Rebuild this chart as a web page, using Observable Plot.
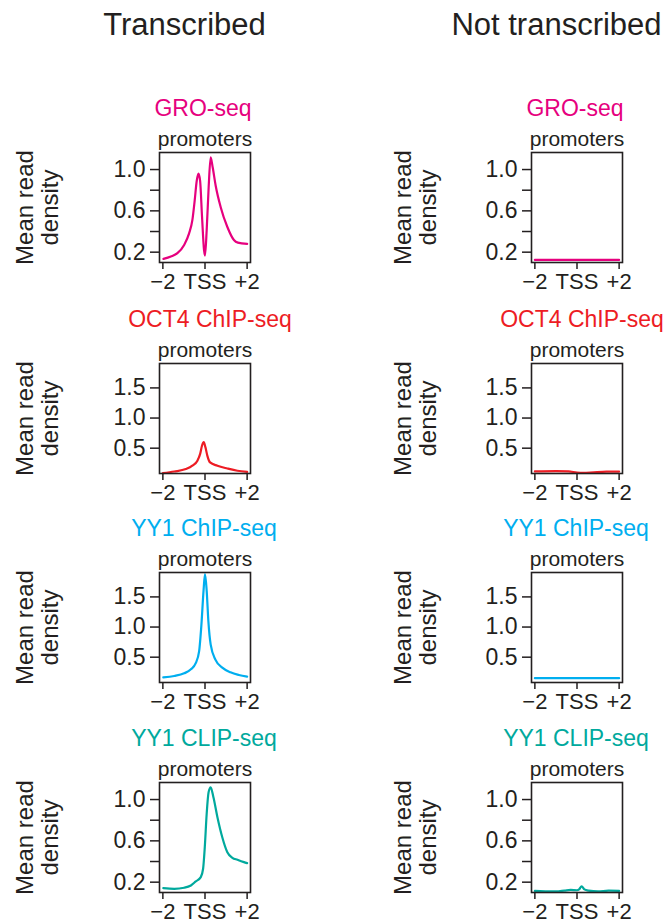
<!DOCTYPE html>
<html>
<head>
<meta charset="utf-8">
<script src="https://cdn.jsdelivr.net/npm/d3@7"></script>
<script src="https://cdn.jsdelivr.net/npm/@observablehq/plot@0.6"></script>
<style>
  body { margin: 0; background: #fff; }
  #fig { position: relative; width: 667px; height: 923px; overflow: hidden; font-family: "Liberation Sans", Arial, Helvetica, sans-serif; color: #231f20; }
  .head { position: absolute; top: 9px; width: 230px; font-size: 31px; line-height: 31px; text-align: center; white-space: nowrap; }
  .panel { position: absolute; }
  .panel svg { overflow: visible; max-width: none; }
</style>
</head>
<body>
<div id="fig"></div>
<script>
// ---------- data ----------
const conditions = ["Transcribed", "Not transcribed"];
const assays = ["GRO-seq", "OCT4 ChIP-seq", "YY1 ChIP-seq", "YY1 CLIP-seq"];
const subtitle = "promoters";
const yTitle = "Mean read\ndensity";

const xTickValues = [-2, 0, 2];
const xTickLabels = ["\u22122", "TSS", "+2"];
const yTicksA = [0.2, 0.4, 0.6, 0.8, 1.0];          // GRO-seq, CLIP-seq rows
const yTickLabelsA = ["0.2", "", "0.6", "", "1.0"];
const yTicksB = [0.5, 1.0, 1.5];                    // ChIP-seq rows
const yTickLabelsB = ["0.5", "1.0", "1.5"];

// kb from TSS / mean read density
const groT_x = [-1.97, -1.62, -1.31, -0.99, -0.755, -0.6, -0.49, -0.39, -0.31, -0.234, -0.14, -0.046, 0.0, 0.08, 0.174, 0.269, 0.364, 0.505, 0.742, 1.057, 1.372, 1.56, 2.0];
const groT_y = [0.135, 0.158, 0.19, 0.27, 0.382, 0.51, 0.70, 0.894, 0.96, 0.894, 0.54, 0.22, 0.167, 0.414, 0.83, 1.118, 1.022, 0.846, 0.638, 0.446, 0.318, 0.292, 0.28];
const groN_x = [-2, -1, 0, 1, 2];
const groN_y = [0.125, 0.125, 0.125, 0.125, 0.125];

const oct4T_x = [-2.0, -1.46, -0.91, -0.6, -0.36, -0.23, -0.14, -0.06, 0.02, 0.11, 0.24, 0.59, 1.06, 1.54, 2.0];
const oct4T_y = [0.086, 0.113, 0.153, 0.209, 0.293, 0.405, 0.545, 0.60, 0.517, 0.377, 0.264, 0.209, 0.163, 0.125, 0.108];
const oct4N_x = [-2, -1, -0.4, 0, 0.3, 0.8, 1.4, 2];
const oct4N_y = [0.115, 0.12, 0.115, 0.095, 0.09, 0.1, 0.11, 0.112];

const yy1T_x = [-1.98, -1.46, -0.99, -0.67, -0.44, -0.28, -0.17, -0.07, 0.0, 0.08, 0.16, 0.27, 0.5, 0.82, 1.21, 1.61, 2.0];
const yy1T_y = [0.165, 0.188, 0.232, 0.299, 0.40, 0.595, 1.04, 1.60, 1.88, 1.60, 1.098, 0.708, 0.456, 0.327, 0.249, 0.205, 0.178];
const yy1N_x = [-2, -1, 0, 1, 2];
const yy1N_y = [0.152, 0.153, 0.152, 0.153, 0.152];

const clipT_x = [-1.98, -1.46, -0.99, -0.67, -0.44, -0.2, -0.09, -0.01, 0.08, 0.17, 0.27, 0.40, 0.59, 0.82, 1.06, 1.30, 1.54, 1.85, 2.0];
const clipT_y = [0.142, 0.136, 0.146, 0.168, 0.207, 0.249, 0.33, 0.539, 0.862, 1.07, 1.118, 1.022, 0.829, 0.635, 0.49, 0.436, 0.417, 0.394, 0.384];
const clipN_x = [-2, -1.5, -1, -0.6, -0.3, 0, 0.1, 0.22, 0.35, 0.55, 1, 1.5, 2];
const clipN_y = [0.115, 0.112, 0.11, 0.118, 0.125, 0.122, 0.13, 0.16, 0.13, 0.118, 0.11, 0.118, 0.115];

// ---------- styling / layout ----------
const ink = "#231f20";
const assayColors = ["#e6007e", "#ed1c24", "#00aeef", "#00a99d"];
const fontFamily = '"Liberation Sans", Arial, Helvetica, sans-serif';
const seriesX = [[groT_x, groN_x], [oct4T_x, oct4N_x], [yy1T_x, yy1N_x], [clipT_x, clipN_x]];
const seriesY = [[groT_y, groN_y], [oct4T_y, oct4N_y], [yy1T_y, yy1N_y], [clipT_y, clipN_y]];
const yDomains = [[0.10, 1.165], [0.08, 1.905], [0.08, 1.905], [0.10, 1.165]];
const rowFrameTop = [152, 363, 572, 782];
const titleDx = [-2, 5, -1, -1];
const colLeft = [0, 372];
const colLabelDx = [-122, -116];
const headCenter = [184.5, 556.5];
const FW = 91, FH = 110, ML = 159, MR = 45, MT = 46, MB = 36;

const fig = document.getElementById("fig");

conditions.forEach((c, ci) => {
  const h = document.createElement("div");
  h.className = "head";
  h.textContent = c;
  h.style.left = (headCenter[ci] - 115) + "px";
  fig.appendChild(h);
});

for (let r = 0; r < assays.length; r++) {
  for (let c = 0; c < conditions.length; c++) {
    const xs = seriesX[r][c], ys = seriesY[r][c];
    const data = xs.map((x, i) => ({pos: x, density: ys[i]}));
    const small = (r === 0 || r === 3);
    const yt = small ? yTicksA : yTicksB;
    const yl = small ? yTickLabelsA : yTickLabelsB;
    const color = assayColors[r];
    const p = Plot.plot({
      width: ML + FW + MR,
      height: MT + FH + MB,
      marginLeft: ML, marginRight: MR, marginTop: MT, marginBottom: MB,
      style: {fontFamily, fontSize: "22px", color: ink, background: "transparent", overflow: "visible"},
      x: {domain: [-2.16, 2.16], axis: null, label: null},
      y: {domain: yDomains[r], axis: null, label: null},
      marks: [
        Plot.line(data, {x: "pos", y: "density", stroke: color, strokeWidth: 2.2, curve: "monotone-x"}),
        Plot.frame({stroke: ink, strokeWidth: 1.6}),
        Plot.axisY(yt, {anchor: "left", label: null, tickSize: 9, tickPadding: 5, strokeWidth: 1.5, stroke: ink, fill: ink, fontSize: 23,
          tickFormat: d => yl[yt.indexOf(d)]}),
        Plot.axisX(xTickValues, {anchor: "bottom", label: null, tickSize: 7, tickPadding: 4, strokeWidth: 1.5, stroke: ink, fill: ink, fontSize: 22,
          tickFormat: d => xTickLabels[xTickValues.indexOf(d)]}),
        Plot.text([assays[r]], {frameAnchor: "top", dx: titleDx[r], dy: -36.5, lineAnchor: "bottom", fill: color, fontSize: 23}),
        Plot.text([subtitle], {frameAnchor: "top", dy: -7, lineAnchor: "bottom", fill: ink, fontSize: 21}),
        Plot.text([yTitle], {frameAnchor: "left", rotate: -90, dx: colLabelDx[c], textAnchor: "middle", lineAnchor: "middle", lineHeight: 1.04, fill: ink, fontSize: 24})
      ]
    });
    const d = document.createElement("div");
    d.className = "panel";
    d.style.left = colLeft[c] + "px";
    d.style.top = (rowFrameTop[r] - MT) + "px";
    d.appendChild(p);
    fig.appendChild(d);
  }
}
</script>
</body>
</html>
